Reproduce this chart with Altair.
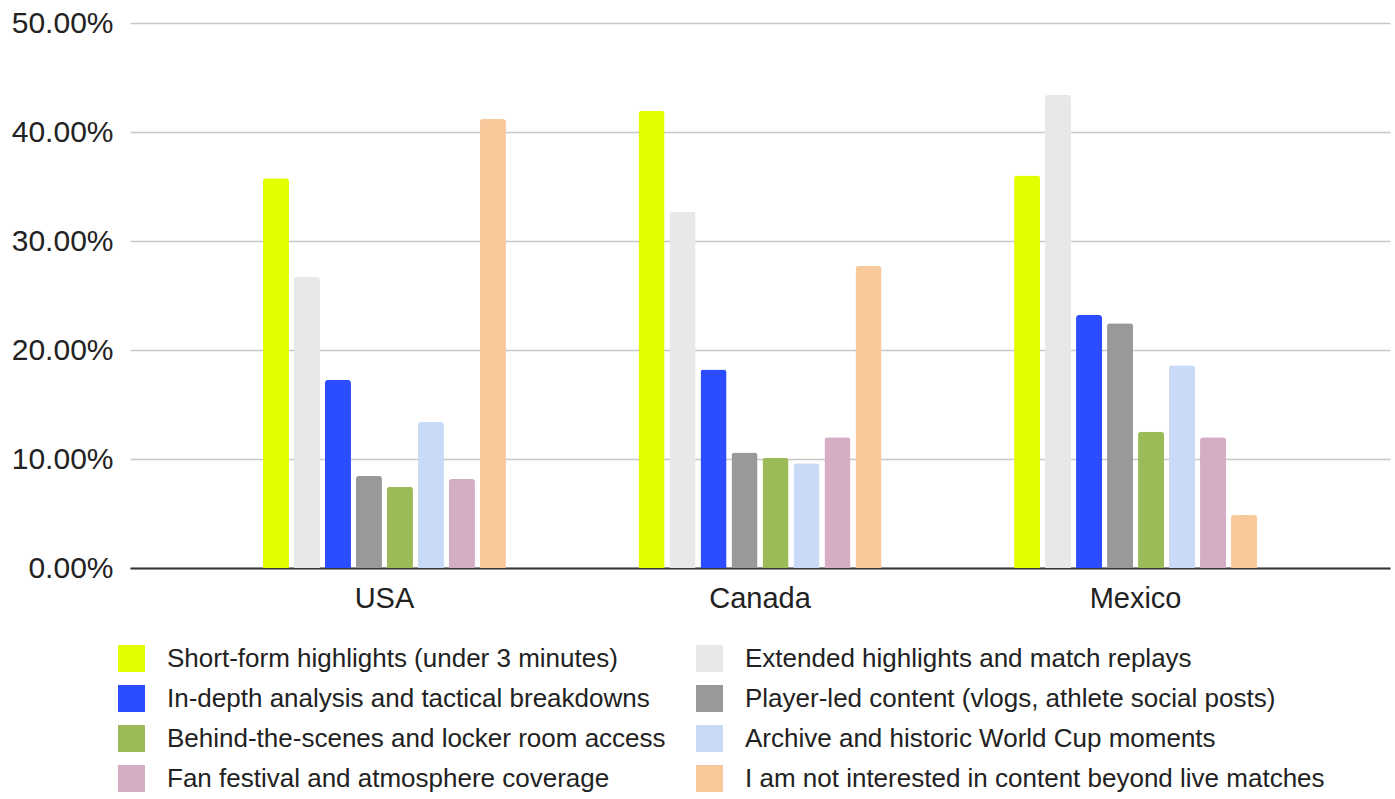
import altair as alt
import pandas as pd

countries = ["USA", "Canada", "Mexico"]
series = [
    "Short-form highlights (under 3 minutes)",
    "Extended highlights and match replays",
    "In-depth analysis and tactical breakdowns",
    "Player-led content (vlogs, athlete social posts)",
    "Behind-the-scenes and locker room access",
    "Archive and historic World Cup moments",
    "Fan festival and atmosphere coverage",
    "I am not interested in content beyond live matches",
]
colors = ["#e4ff00", "#e8e8e8", "#2b4dff", "#999999", "#9bbb59", "#c9daf8", "#d5aec3", "#f8c99b"]

usa = [0.3575, 0.267, 0.1725, 0.0845, 0.0746, 0.134, 0.0817, 0.412]
canada = [0.4195, 0.327, 0.182, 0.106, 0.101, 0.096, 0.120, 0.277]
mexico = [0.360, 0.434, 0.232, 0.2245, 0.125, 0.186, 0.120, 0.0486]

rows = []
for c, vals in zip(countries, [usa, canada, mexico]):
    for s, v in zip(series, vals):
        rows.append({"Country": c, "Series": s, "Value": v})
df = pd.DataFrame(rows)

FONT = "Liberation Sans"

chart = alt.Chart(df).mark_bar(cornerRadiusTopLeft=3, cornerRadiusTopRight=3).encode(
    x=alt.X("Country:N", sort=countries, title=None,
            scale=alt.Scale(paddingInner=0.353, paddingOuter=0.354),
            axis=alt.Axis(labelAngle=0, labelFontSize=29, labelColor="#222222", labelFont=FONT,
                          ticks=False, domain=True, domainColor="#333333", domainWidth=2,
                          labelPadding=16, grid=False)),
    xOffset=alt.XOffset("Series:N", sort=series,
                        scale=alt.Scale(paddingInner=0.16, paddingOuter=0)),
    y=alt.Y("Value:Q", title=None,
            scale=alt.Scale(domain=[0, 0.5]),
            axis=alt.Axis(format=".2%", values=[0, 0.1, 0.2, 0.3, 0.4, 0.5],
                          labelFontSize=30, labelColor="#222222", labelFont=FONT,
                          ticks=False, domain=False, labelPadding=17,
                          gridColor="#c8c8c8", gridWidth=1.5)),
    color=alt.Color("Series:N", sort=series,
                    scale=alt.Scale(domain=series, range=colors),
                    legend=alt.Legend(title=None, orient="none", legendX=-12, legendY=622,
                                      direction="horizontal",
                                      columns=2, symbolType="square", symbolSize=729,
                                      symbolStrokeWidth=0, labelFontSize=26, labelFont=FONT,
                                      labelColor="#222222", labelLimit=0, labelOffset=22,
                                      rowPadding=13, columnPadding=30)),
).properties(
    width=1260, height=545,
    background="white",
    autosize=alt.AutoSizeParams(type="none"),
    padding={"left": 130, "top": 23, "right": 5, "bottom": 231},
).configure_view(strokeWidth=0, stroke=None)

chart.save("out.html", embed_options={"renderer": "svg", "actions": False})
